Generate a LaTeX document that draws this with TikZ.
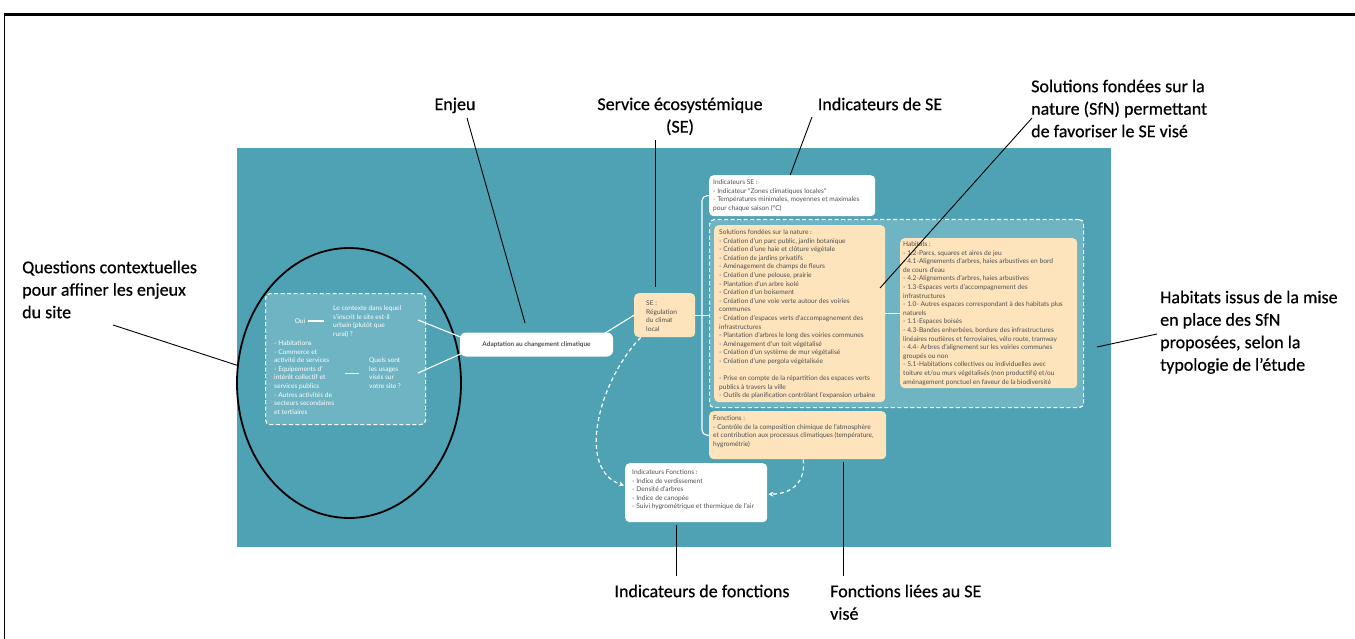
\documentclass[tikz,border=0pt]{standalone}
\usepackage{fontspec}
\setmainfont{Carlito}
\newfontfamily\annotfont[FakeBold=0.5]{Carlito}
\newfontfamily\boxfont{Lato}
\usetikzlibrary{shapes.geometric,arrows.meta}
\definecolor{tealbg}{HTML}{4FA2B3}
\definecolor{tealhi}{HTML}{6EB4C2}
\definecolor{peach}{HTML}{FDE4BD}
\definecolor{boxtext}{HTML}{4F4F4F}
\begin{document}
\begin{tikzpicture}[x=1pt,y=-1pt,
  annot/.style={font=\annotfont\fontsize{18}{22.5}\selectfont, inner sep=0, align=left},
  pointer/.style={draw=black, line width=0.9},
  btext/.style={font=\boxfont\fontsize{6.6}{8.6}\selectfont, text=boxtext, inner sep=0, align=left, anchor=north west},
  wtext/.style={btext, text=white},
  card/.style={rounded corners=4.5, inner sep=0, anchor=north west},
  link/.style={draw=white, line width=1.1},
  dlink/.style={draw=white, line width=1.2, dash pattern=on 4pt off 3pt, -{Stealth[length=5pt,width=5pt]}},
  dframe/.style={draw=white, line width=1.2, dash pattern=on 4pt off 2.5pt, rounded corners=6},
]
\useasboundingbox (0,0) rectangle (1355,639);
\fill[white] (0,0) rectangle (1355,639);

% outer frame (open on the right and at the bottom)
\draw[line width=2.7] (4,14.7) -- (1355,14.7);
\draw[line width=1.3] (4.7,13.5) -- (4.7,639);

% teal panel
\fill[tealbg] (237,148) rectangle (1111,547);

% contextual questions
\node[draw=black, line width=1.8, ellipse, minimum width=224, minimum height=270, inner sep=0] (ell) at (349,383) {};
\node[dframe, fill=tealhi, card, minimum width=160, minimum height=131] (qbox) at (265,293) {};
\node[wtext, anchor=center] (oui) at (300,321) {Oui};
\node[wtext] (q1) at (333,305.5) {Le contexte dans lequel\\s’inscrit le site est-il\\urbain (plutôt que\\rural) ?};
\node[wtext] (uses) at (274,340.5) {- Habitations\\- Commerce et\\activité de services\\- Equipements d’\\intérêt collectif et\\services publics\\- Autres activités de\\secteurs secondaires\\et tertiaires};
\node[wtext] (q2) at (369,357.5) {Quels sont\\les usages\\visés sur\\votre site ?};
\draw[link] (oui.east) -- (oui.east -| q1.west) [shorten <=3pt, shorten >=9pt];
\draw[link, shorten <=10pt] (q2.west) -- ++(-24,0);
\coordinate (q1out) at (418,320);
\coordinate (q2out) at (418,373);

% issue
\node[fill=white, rounded corners=6, minimum width=153, minimum height=24, inner sep=0,
      font=\boxfont\bfseries\fontsize{6.4}{8}\selectfont, text=boxtext] (adap) at (536.5,344.5) {Adaptation au changement climatique};
\draw[link] (q1out) -- ([xshift=2,yshift=7]adap.west);
\draw[link] (q2out) -- ([xshift=3,yshift=-8.5]adap.west);

% ecosystem service
\node[card, fill=peach, minimum width=61, minimum height=44] (se) at (634,293) {};
\node[btext] (setext) at (646,300.5) {SE :\\Régulation\\du climat\\local};
\draw[link] ([xshift=-8,yshift=11.5]adap.east) -- (se.west);

% service indicators
\node[card, fill=white, minimum width=166, minimum height=41] (ise) at (709,175) {};
\node[btext] at (713,179.5) {Indicateurs SE :\\- Indicateur "Zones climatiques locales"\\- Températures minimales, moyennes et maximales\\pour chaque saison (°C)};

% nature-based solutions and habitats
\node[dframe, fill=tealhi, card, minimum width=374, minimum height=188] (dash) at (709,219) {};
\node[card, fill=peach, minimum width=171, minimum height=177] (sol) at (714,225) {};
\node[btext] at (719,229.5) {Solutions fondées sur la nature :\\- Création d’un parc public, jardin botanique\\- Création d’une haie et clôture végétale\\- Création de jardins privatifs\\- Aménagement de champs de fleurs\\- Création d’une pelouse, prairie\\- Plantation d’un arbre isolé\\- Création d’un boisement\\- Création d’une voie verte autour des voiries\\communes\\- Création d’espaces verts d’accompagnement des\\infrastructures\\- Plantation d’arbres le long des voiries communes\\- Aménagement d’un toit végétalisé\\- Création d’un système de mur végétalisé\\- Création d’une pergola végétalisée\\[8.6pt]- Prise en compte de la répartition des espaces verts\\publics à travers la ville\\- Outils de planification contrôlant l’expansion urbaine};
\node[card, fill=peach, minimum width=177, minimum height=150] (hab) at (900,238) {};
\node[btext] at (903,241.5) {Habitats :\\- 1.2-Parcs, squares et aires de jeu\\- 4.1-Alignements d’arbres, haies arbustives en bord\\de cours d’eau\\- 4.2-Alignements d’arbres, haies arbustives\\- 1.3-Espaces verts d’accompagnement des\\infrastructures\\- 1.0- Autres espaces correspondant à des habitats plus\\naturels\\- 1.1-Espaces boisés\\- 4.3-Bandes enherbées, bordure des infrastructures\\linéaires routières et ferroviaires, vélo route, tramway\\- 4.4- Arbres d’alignement sur les voiries communes\\groupés ou non\\- 5.1-Habitations collectives ou individuelles avec\\toiture et/ou murs végétalisés (non productifs) et/ou\\aménagement ponctuel en faveur de la biodiversité};

% functions
\node[card, fill=peach, minimum width=177, minimum height=48] (fon) at (709,411) {};
\node[btext] at (713,415.5) {Fonctions :\\- Contrôle de la composition chimique de l’atmosphère\\et contribution aux processus climatiques (température,\\hygrométrie)};

% function indicators
\node[card, fill=white, minimum width=142, minimum height=59] (ifu) at (625,463) {};
\node[btext] at (632,469.5) {Indicateurs Fonctions :\\- Indice de verdissement\\- Densité d’arbres\\- Indice de canopée\\- Suivi hygrométrique et thermique de l’air};

% tree connectors
\draw[link, rounded corners=5] (ise.west) -- ++(-7,0) |- (fon.west);
\draw[link] (se.east) -- (se.east -| dash.west);
\draw[link] (sol.east) -- (sol.east -| hab.west);
\draw[dlink, shorten >=1pt] ([xshift=-24]se.south) .. controls (598,382) and (576,470) .. ([yshift=7]ifu.west);
\draw[dlink, shorten >=1pt] ([xshift=5.5]fon.south) .. controls (806,482) and (792,494) .. ([yshift=-1.5]ifu.east);

% annotations
\node[annot, anchor=north west] (lq) at (22,260.5) {Questions contextuelles\\pour affiner les enjeux\\du site};
\node[annot, anchor=north] (lenjeu) at (455,97.5) {Enjeu};
\node[annot, anchor=north, align=center] (lse) at (680,97.5) {Service écosystémique\\(SE)};
\node[annot, anchor=north] (lise) at (880,97.5) {Indicateurs de SE};
\node[annot, anchor=north west] (lsol) at (1031,79.5) {Solutions fondées sur la\\nature (SfN) permettant\\de favoriser le SE visé};
\node[annot, anchor=north west] (lhab) at (1160,290.5) {Habitats issus de la mise\\en place des SfN\\proposées, selon la\\typologie de l’étude};
\node[annot, anchor=north] (lifu) at (702,584.5) {Indicateurs de fonctions};
\node[annot, anchor=north west] (lfon) at (830,584.5) {Fonctions liées au SE\\visé};

\coordinate (pq) at (113,325);
\coordinate (penjeu0) at (467,118);
\coordinate (penjeu1) at (525,323);
\coordinate (pse0) at (655,140);
\coordinate (pse1) at (655,287);
\coordinate (pise) at (812,117);
\coordinate (psol0) at (1032,118);
\coordinate (psol1) at (880,288);
\coordinate (phab0) at (1157,334);
\coordinate (phab1) at (1097,347);

\draw[pointer] (pq) -- (ell.171);
\draw[pointer] (penjeu0) -- (penjeu1);
\draw[pointer] (pse0) -- (pse1);
\draw[pointer] (pise) -- ([xshift=-2]ise.north);
\draw[pointer] (psol0) -- (psol1);
\draw[pointer] (phab0) -- (phab1);
\draw[pointer] ([xshift=-20]ifu.south) ++(0,3) -- ++(0,51);
\draw[pointer] ([xshift=45.5]fon.south) ++(0,3) -- ++(0,114);
\end{tikzpicture}
\end{document}
